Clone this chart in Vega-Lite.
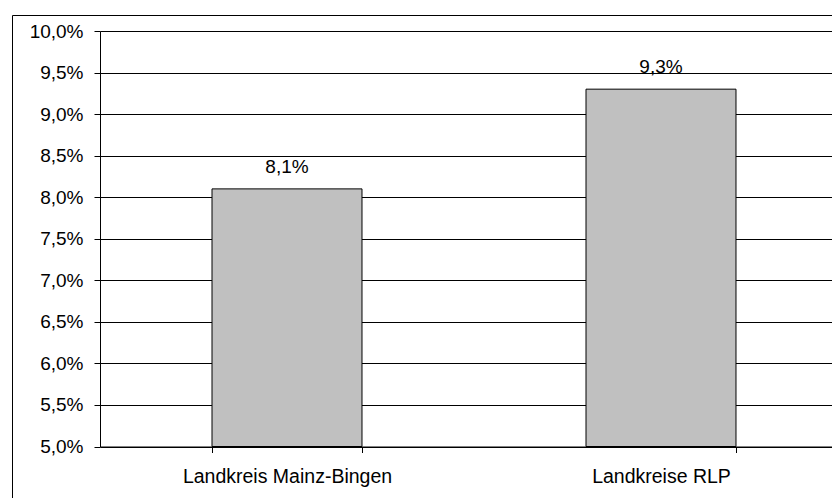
{
  "$schema": "https://vega.github.io/schema/vega-lite/v6.json",
  "width": 850,
  "height": 490,
  "autosize": {"type": "none"},
  "padding": {"left": 12, "top": 15, "right": 0, "bottom": 0},
  "background": "white",
  "config": {
    "locale": {"number": {"decimal": ",", "thousands": ".", "grouping": [3], "currency": ["", " €"]}},
    "view": {"stroke": "black", "strokeWidth": 1},
    "font": "Liberation Sans"
  },
  "data": {
    "values": [
      {"region": "Landkreis Mainz-Bingen", "rate": 0.081},
      {"region": "Landkreise RLP", "rate": 0.093}
    ]
  },
  "encoding": {
    "x": {
      "field": "region",
      "type": "nominal",
      "sort": null,
      "scale": {"range": [88, 836], "paddingInner": 0.599, "paddingOuter": 0.2995},
      "axis": {
        "title": null,
        "labelAngle": 0,
        "offset": -58.5,
        "tickBand": "extent",
        "domainColor": "black",
        "tickColor": "black",
        "tickSize": 6,
        "labelFontSize": 19.5,
        "labelFont": "Liberation Sans",
        "labelColor": "black",
        "labelPadding": 15,
        "labelLimit": 0,
        "grid": false
      }
    },
    "y": {
      "field": "rate",
      "type": "quantitative",
      "scale": {"domain": [0.05, 0.1], "range": [431.5, 16], "nice": false, "zero": false},
      "axis": {
        "title": null,
        "offset": -88,
        "values": [0.05, 0.055, 0.06, 0.065, 0.07, 0.075, 0.08, 0.085, 0.09, 0.095, 0.1],
        "format": ".1%",
        "grid": true,
        "gridColor": "black",
        "gridOpacity": 1,
        "domainColor": "black",
        "tickColor": "black",
        "tickSize": 6,
        "labelPadding": 11,
        "labelFontSize": 19,
        "labelFont": "Liberation Sans",
        "labelColor": "black"
      }
    }
  },
  "layer": [
    {
      "mark": {"type": "bar", "fill": "#c0c0c0", "stroke": "black", "strokeWidth": 1},
      "encoding": {"y2": {"datum": 0.05}}
    },
    {
      "mark": {"type": "text", "baseline": "alphabetic", "dy": -16, "fontSize": 19, "font": "Liberation Sans", "color": "black"},
      "encoding": {"text": {"field": "rate", "type": "quantitative", "format": ".1%"}}
    }
  ]
}
